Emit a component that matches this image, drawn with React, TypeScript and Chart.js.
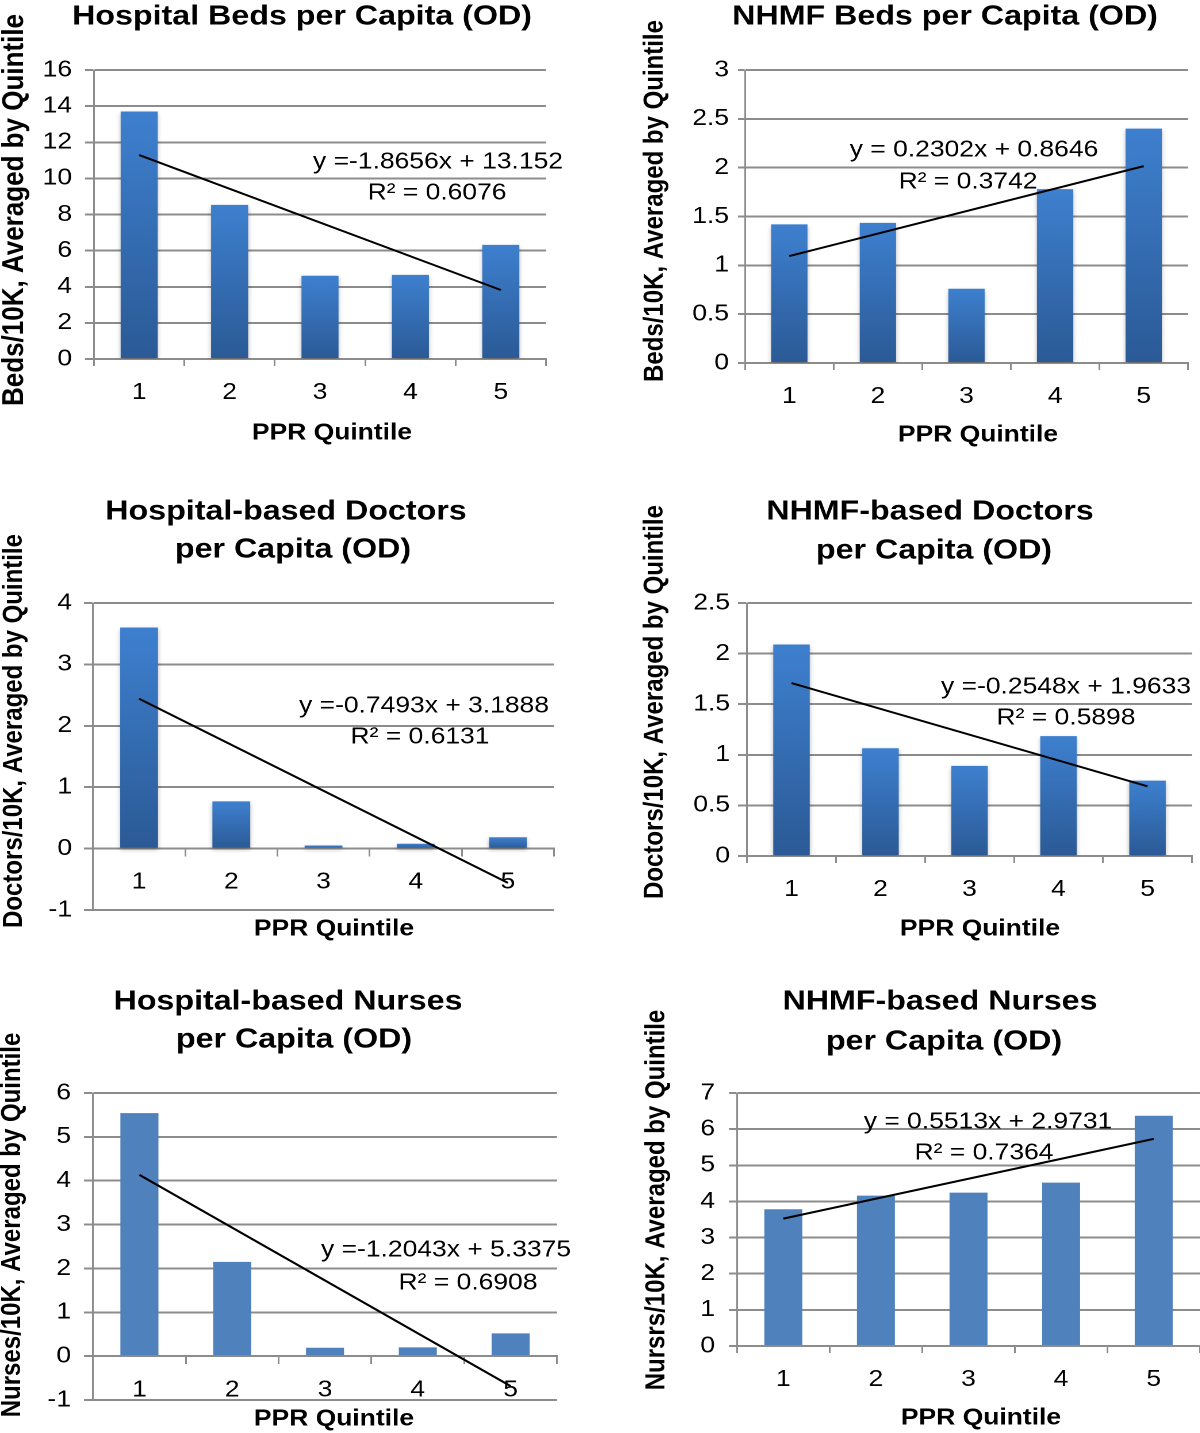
import React, { useEffect, useRef } from 'react';
import { Chart, registerables } from 'chart.js';

Chart.register(...registerables);

const FONT = "'Liberation Sans', Arial, Helvetica, sans-serif";
const STRETCH = 1.15;
const CANVAS_W = 522;
const X_AXIS_H = 45;
const GRID = '#8c8c8c';
const GRAD_TOP = '#3e80cf';
const GRAD_BOTTOM = '#2b5a96';
const FLAT_BLUE = '#4f81bd';

// ---------------- data ----------------
const quintiles = ['1', '2', '3', '4', '5'];
const xAxisTitle = 'PPR Quintile';

const hospitalBeds = [13.7, 8.53, 4.61, 4.66, 6.32];
const hospitalBedsTrend = [11.29, null, null, null, 3.82];
const hospitalBedsEq = ['y =-1.8656x + 13.152', 'R\u00b2 = 0.6076'];

const nhmfBeds = [1.42, 1.435, 0.76, 1.78, 2.4];
const nhmfBedsTrend = [1.095, null, null, null, 2.016];
const nhmfBedsEq = ['y = 0.2302x + 0.8646', 'R\u00b2 = 0.3742'];

const hospitalDoctors = [3.6, 0.77, 0.05, 0.08, 0.185];
const hospitalDoctorsTrend = [2.44, null, null, null, -0.558];
const hospitalDoctorsEq = ['y =-0.7493x + 3.1888', 'R\u00b2 = 0.6131'];

const nhmfDoctors = [2.09, 1.065, 0.89, 1.185, 0.745];
const nhmfDoctorsTrend = [1.709, null, null, null, 0.689];
const nhmfDoctorsEq = ['y =-0.2548x + 1.9633', 'R\u00b2 = 0.5898'];

const hospitalNurses = [5.54, 2.15, 0.19, 0.2, 0.52];
const hospitalNursesTrend = [4.133, null, null, null, -0.684];
const hospitalNursesEq = ['y =-1.2043x + 5.3375', 'R\u00b2 = 0.6908'];

const nhmfNurses = [3.785, 4.16, 4.245, 4.52, 6.37];
const nhmfNursesTrend = [3.524, null, null, null, 5.73];
const nhmfNursesEq = ['y = 0.5513x + 2.9731', 'R\u00b2 = 0.7364'];

// y axis ranges: [min, max, step]
const hospitalBedsRange = [0, 16, 2];
const nhmfBedsRange = [0, 3, 0.5];
const hospitalDoctorsRange = [-1, 4, 1];
const nhmfDoctorsRange = [0, 2.5, 0.5];
const hospitalNursesRange = [-1, 6, 1];
const nhmfNursesRange = [0, 7, 1];

// ---------------- layout (page pixels) ----------------
type Pt = [number, number];
interface PanelSpec {
  id: string;
  title: string[];
  titlePos: Pt[];
  yTitle: string;
  yTitleSize: number;
  yTitlePos: Pt;
  xTitlePos: Pt;
  values: number[];
  trend: (number | null)[];
  eq: string[];
  eqPos: Pt[];
  range: number[];
  gradient: boolean;
  box: { x0: number; y0: number; h: number };
  area: { l: number; r: number; t: number; b: number };
  tickStart: number;
  yLabelRight: number;
  zeroAxis: boolean;
}

const panels: PanelSpec[] = [
  {
    id: 'hb',
    title: ['Hospital Beds per Capita (OD)'],
    titlePos: [[302, 17]],
    yTitle: 'Beds/10K, Averaged by Quintile',
    yTitleSize: 26,
    yTitlePos: [15, 210],
    xTitlePos: [332, 433],
    values: hospitalBeds,
    trend: hospitalBedsTrend,
    eq: hospitalBedsEq,
    eqPos: [[438, 162], [437, 193]],
    range: hospitalBedsRange,
    gradient: true,
    box: { x0: 0, y0: 0, h: 462 },
    area: { l: 94, r: 546, t: 70, b: 359 },
    tickStart: 85,
    yLabelRight: 72,
    zeroAxis: false,
  },
  {
    id: 'nb',
    title: ['NHMF Beds per Capita (OD)'],
    titlePos: [[945, 17]],
    yTitle: 'Beds/10K, Averaged by Quintile',
    yTitleSize: 24,
    yTitlePos: [655, 201],
    xTitlePos: [978, 435],
    values: nhmfBeds,
    trend: nhmfBedsTrend,
    eq: nhmfBedsEq,
    eqPos: [[974, 150], [968, 182]],
    range: nhmfBedsRange,
    gradient: true,
    box: { x0: 600, y0: 0, h: 462 },
    area: { l: 745, r: 1188, t: 70, b: 363 },
    tickStart: 738,
    yLabelRight: 729,
    zeroAxis: false,
  },
  {
    id: 'hd',
    title: ['Hospital-based Doctors', 'per Capita (OD)'],
    titlePos: [[286, 512], [293, 550]],
    yTitle: 'Doctors/10K, Averaged by Quintile',
    yTitleSize: 24,
    yTitlePos: [14.5, 731],
    xTitlePos: [334, 929],
    values: hospitalDoctors,
    trend: hospitalDoctorsTrend,
    eq: hospitalDoctorsEq,
    eqPos: [[424, 706], [420, 737]],
    range: hospitalDoctorsRange,
    gradient: true,
    box: { x0: 0, y0: 470, h: 480 },
    area: { l: 93, r: 554, t: 603, b: 910 },
    tickStart: 84,
    yLabelRight: 72,
    zeroAxis: true,
  },
  {
    id: 'nd',
    title: ['NHMF-based Doctors', 'per Capita (OD)'],
    titlePos: [[930, 512], [934, 551]],
    yTitle: 'Doctors/10K, Averaged by Quintile',
    yTitleSize: 24,
    yTitlePos: [655, 702],
    xTitlePos: [980, 929],
    values: nhmfDoctors,
    trend: nhmfDoctorsTrend,
    eq: nhmfDoctorsEq,
    eqPos: [[1066, 687], [1066, 718]],
    range: nhmfDoctorsRange,
    gradient: true,
    box: { x0: 600, y0: 470, h: 480 },
    area: { l: 747, r: 1192, t: 603, b: 856 },
    tickStart: 738,
    yLabelRight: 730,
    zeroAxis: false,
  },
  {
    id: 'hn',
    title: ['Hospital-based Nurses', 'per Capita (OD)'],
    titlePos: [[288, 1002], [294, 1040]],
    yTitle: 'Nurses/10K, Averaged by Quintile',
    yTitleSize: 24,
    yTitlePos: [12.5, 1225],
    xTitlePos: [334, 1419],
    values: hospitalNurses,
    trend: hospitalNursesTrend,
    eq: hospitalNursesEq,
    eqPos: [[446, 1250], [468, 1283]],
    range: hospitalNursesRange,
    gradient: false,
    box: { x0: 0, y0: 960, h: 473 },
    area: { l: 93, r: 557, t: 1093, b: 1400 },
    tickStart: 84,
    yLabelRight: 71,
    zeroAxis: true,
  },
  {
    id: 'nn',
    title: ['NHMF-based Nurses', 'per Capita (OD)'],
    titlePos: [[940, 1002], [944, 1042]],
    yTitle: 'Nursrs/10K, Averaged by Quintile',
    yTitleSize: 24,
    yTitlePos: [657, 1200],
    xTitlePos: [981, 1418],
    values: nhmfNurses,
    trend: nhmfNursesTrend,
    eq: nhmfNursesEq,
    eqPos: [[988, 1122], [984, 1153]],
    range: nhmfNursesRange,
    gradient: false,
    box: { x0: 600, y0: 960, h: 473 },
    area: { l: 737, r: 1200, t: 1093, b: 1346 },
    tickStart: 729,
    yLabelRight: 715,
    zeroAxis: false,
  },
];

// ---------------- plugins ----------------
interface TextItem {
  text: string;
  x: number;
  y: number;
  size: number;
  bold: boolean;
  rotate?: boolean;
}

const textPlugin = {
  id: 'chartText',
  afterDatasetsDraw(chart: any, _args: any, opts: any) {
    const ctx = chart.ctx as CanvasRenderingContext2D;
    const items: TextItem[] = (opts && opts.items) || [];
    for (const it of items) {
      ctx.save();
      ctx.font = `${it.bold ? 'bold ' : ''}${it.size}px ${FONT}`;
      ctx.fillStyle = '#000';
      ctx.textAlign = 'center';
      ctx.textBaseline = 'middle';
      ctx.translate(it.x, it.y);
      if (it.rotate) ctx.rotate(-Math.PI / 2);
      ctx.fillText(it.text, 0, 0);
      ctx.restore();
    }
  },
};

const shadowPlugin = {
  id: 'barShadow',
  beforeDatasetDraw(chart: any, args: any, opts: any) {
    if (!opts || !opts.enabled || args.index !== 0) return;
    const ctx = chart.ctx as CanvasRenderingContext2D;
    ctx.save();
    ctx.shadowColor = 'rgba(0,0,0,0.28)';
    ctx.shadowBlur = 8;
    ctx.shadowOffsetY = 4;
  },
  afterDatasetDraw(chart: any, args: any, opts: any) {
    if (!opts || !opts.enabled || args.index !== 0) return;
    chart.ctx.restore();
  },
};

const gradientFill = (c: any) => {
  const chart = c.chart;
  if (!chart.chartArea || c.type !== 'data') return GRAD_TOP;
  const yScale = chart.scales.y;
  const v = c.dataset.data[c.dataIndex];
  const top = yScale.getPixelForValue(v);
  const base = yScale.getPixelForValue(0);
  if (!isFinite(top) || !isFinite(base) || Math.abs(base - top) < 1) return GRAD_TOP;
  const g = chart.ctx.createLinearGradient(0, Math.min(top, base), 0, Math.max(top, base));
  g.addColorStop(0, GRAD_TOP);
  g.addColorStop(1, GRAD_BOTTOM);
  return g;
};

// ---------------- component ----------------
function ChartPanel({ p }: { p: PanelSpec }) {
  const ref = useRef<HTMLCanvasElement>(null);

  useEffect(() => {
    const canvas = ref.current;
    if (!canvas) return;
    const toX = (px: number) => (px - p.box.x0) / STRETCH;
    const toY = (py: number) => py - p.box.y0;

    const yAxisW = toX(p.area.l);
    const yTick = (p.area.l - p.tickStart) / STRETCH;
    const yPad = yAxisW - yTick - toX(p.yLabelRight);
    const plotBottom = toY(p.area.b);
    const padding = {
      left: 0,
      top: toY(p.area.t),
      right: CANVAS_W - toX(p.area.r),
      bottom: p.zeroAxis ? p.box.h - plotBottom : p.box.h - plotBottom - X_AXIS_H,
    };

    const items: TextItem[] = [
      ...p.title.map((t, i) => ({
        text: t,
        x: toX(p.titlePos[i][0]),
        y: toY(p.titlePos[i][1]),
        size: 28,
        bold: true,
      })),
      {
        text: p.yTitle,
        x: toX(p.yTitlePos[0]),
        y: toY(p.yTitlePos[1]),
        size: p.yTitleSize,
        bold: true,
        rotate: true,
      },
      {
        text: xAxisTitle,
        x: toX(p.xTitlePos[0]),
        y: toY(p.xTitlePos[1]),
        size: 23,
        bold: true,
      },
      ...p.eq.map((t, i) => ({
        text: t,
        x: toX(p.eqPos[i][0]),
        y: toY(p.eqPos[i][1]),
        size: 23,
        bold: false,
      })),
    ];

    const [yMin, yMax, yStep] = p.range;

    const chart = new Chart(canvas, {
      type: 'bar',
      data: {
        labels: quintiles,
        datasets: [
          {
            type: 'bar',
            data: p.values,
            backgroundColor: p.gradient ? gradientFill : FLAT_BLUE,
            borderWidth: 0,
            barPercentage: 0.41,
            categoryPercentage: 1,
            order: 2,
          },
          {
            type: 'line',
            data: p.trend,
            borderColor: '#000',
            borderWidth: 2,
            pointRadius: 0,
            spanGaps: true,
            fill: false,
            tension: 0,
            order: 1,
          },
        ],
      } as any,
      options: {
        responsive: false,
        animation: false,
        devicePixelRatio: 2,
        events: [],
        layout: { padding },
        plugins: {
          legend: { display: false },
          tooltip: { enabled: false },
          title: { display: false },
          chartText: { items },
          barShadow: { enabled: p.gradient },
        } as any,
        scales: {
          x: {
            type: 'category',
            position: p.zeroAxis ? { y: 0 } : 'bottom',
            offset: true,
            grid: {
              display: true,
              drawOnChartArea: false,
              drawTicks: true,
              tickLength: 7,
              color: GRID,
              lineWidth: 1.5,
              offset: true,
            },
            border: { display: true, color: GRID, width: 2 },
            ticks: {
              color: '#000',
              font: { family: FONT, size: 23 },
              padding: 13,
              autoSkip: false,
              maxRotation: 0,
            },
            afterFit: (s: any) => {
              s.height = X_AXIS_H;
            },
          },
          y: {
            type: 'linear',
            min: yMin,
            max: yMax,
            ticks: {
              stepSize: yStep,
              color: '#000',
              font: { family: FONT, size: 23 },
              padding: yPad,
              callback: (v: any) => String(Number(v)),
            },
            grid: {
              color: GRID,
              lineWidth: 2,
              drawTicks: true,
              tickLength: yTick,
            },
            border: { display: true, color: GRID, width: 1.5 },
            afterFit: (s: any) => {
              s.width = yAxisW;
            },
          },
        } as any,
      },
      plugins: [textPlugin, shadowPlugin],
    });

    return () => chart.destroy();
  }, [p]);

  return (
    <div
      style={{
        position: 'absolute',
        left: p.box.x0,
        top: p.box.y0,
        width: CANVAS_W,
        height: p.box.h,
        transform: `scaleX(${STRETCH})`,
        transformOrigin: '0 0',
      }}
    >
      <canvas
        ref={ref}
        width={CANVAS_W}
        height={p.box.h}
        style={{ width: CANVAS_W, height: p.box.h, display: 'block' }}
      />
    </div>
  );
}

export default function App() {
  return (
    <div
      style={{
        position: 'absolute',
        left: 0,
        top: 0,
        width: 1200,
        height: 1433,
        overflow: 'hidden',
        background: '#fff',
      }}
    >
      {panels.map((p) => (
        <ChartPanel key={p.id} p={p} />
      ))}
    </div>
  );
}
